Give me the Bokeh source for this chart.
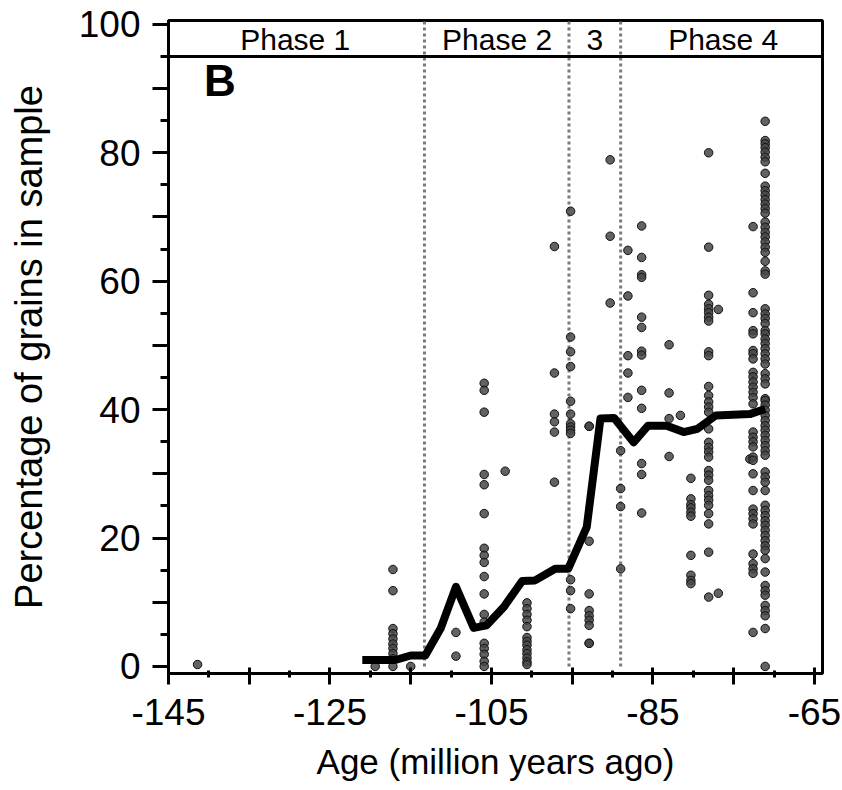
from bokeh.plotting import figure
from bokeh.models import Range1d, FixedTicker
from bokeh.core.properties import value
from bokeh.embed import file_html
from bokeh.resources import INLINE

FONT = "Liberation Sans"

# Sample ages (million years, negative = before present) and the
# percentage of grains in each sample taken at that age
column_ages = [-141.4, -119.4, -117.2, -115.0, -109.4, -105.9, -103.3, -100.6,
               -97.2, -95.2, -92.9, -90.3, -89.0, -88.1, -86.4, -83.0,
               -81.6, -80.3, -78.1, -76.9, -73.0, -72.6, -71.1]
column_pcts = [
    [0.3],
    [0.0],
    [15.1, 11.8, 5.9, 5.1, 4.3, 3.5, 2.8, 2.0, 1.2, 0.0],
    [0.0],
    [5.3, 1.6],
    [44.1, 43.0, 39.6, 29.9, 28.3, 23.8, 18.4, 17.3, 16.2, 14.0, 11.3, 8.1,
     6.9, 3.6, 2.8, 1.9, 0.8, 0.0],
    [30.4],
    [9.9, 9.0, 8.1, 7.2, 6.2, 4.5, 3.9, 3.3, 2.6, 2.0, 1.3, 0.7, 0.3],
    [65.4, 45.7, 39.3, 38.1, 36.5, 28.7],
    [70.9, 51.3, 49.0, 46.7, 41.3, 39.3, 37.8, 37.3, 36.8, 36.3, 13.5, 11.8, 9.0],
    [37.4, 37.4, 19.5, 11.3, 8.7, 7.9, 7.2, 6.4, 3.6, 3.6],
    [78.9, 67.0, 56.6],
    [33.6, 27.7, 24.9, 15.2],
    [64.8, 57.7, 48.4, 45.7, 41.9],
    [68.6, 63.7, 61.0, 60.6, 54.4, 52.8, 49.1, 48.5, 43.0, 40.2, 31.6, 29.9, 23.9],
    [50.1, 42.6, 38.6, 32.7],
    [39.1],
    [29.3, 26.1, 25.2, 24.7, 24.0, 23.4, 17.3, 14.2, 13.4, 12.9],
    [80.0, 65.3, 57.8, 56.4, 55.7, 55.1, 54.4, 53.8, 49.0, 48.4, 43.6, 42.2,
     41.2, 40.4, 39.6, 37.0, 34.9, 34.1, 33.4, 32.6, 30.5, 29.8, 29.0, 27.4,
     26.6, 25.9, 25.1, 23.8, 22.2, 17.8, 10.8],
    [55.6, 11.4],
    [32.3],
    [68.5, 58.2, 55.1, 52.3, 51.8, 49.2, 48.7, 47.9, 45.8, 45.1, 44.3, 43.5,
     42.7, 41.9, 40.9, 36.5, 35.7, 35.0, 34.2, 32.6, 32.1, 30.0, 27.4, 24.5,
     23.8, 23.0, 22.2, 17.5, 16.0, 15.2, 14.5, 5.3],
    [84.9, 81.9, 81.4, 80.8, 80.1, 79.3, 78.6, 76.8, 74.8, 74.1, 73.4, 72.7,
     72.0, 71.3, 70.6, 69.2, 68.4, 67.6, 66.9, 66.1, 65.3, 64.5, 63.1, 61.6,
     61.1, 55.7, 54.9, 54.2, 53.4, 52.3, 51.8, 51.0, 50.3, 49.5, 48.7, 47.9,
     47.1, 45.6, 44.8, 44.0, 41.7, 41.4, 40.7, 39.9, 39.1, 38.3, 37.5, 36.8,
     36.0, 35.2, 34.4, 33.6, 32.9, 30.3, 29.5, 28.7, 27.4, 25.1, 24.3, 23.5,
     22.7, 22.0, 21.2, 20.4, 19.6, 18.8, 18.1, 16.8, 14.7, 12.6, 11.8, 11.1,
     9.5, 8.7, 7.9, 5.9, 0.0],
]

# Running mean of the samples
mean_age = [-121.0, -116.9, -115.0, -113.2, -111.3, -109.4, -107.2, -105.6,
            -103.5, -101.2, -99.6, -97.1, -95.5, -93.2, -91.5, -89.8, -87.4,
            -85.6, -83.3, -81.2, -79.5, -77.2, -73.0, -71.1]
mean_pct = [1.0, 1.0, 1.7, 1.7, 5.9, 12.4, 6.0, 6.4, 9.2, 13.3, 13.4, 15.2,
            15.2, 21.7, 38.6, 38.7, 34.9, 37.5, 37.5, 36.5, 37.0, 39.1, 39.3,
            40.1]

# Phase boundaries and header labels
phase_bounds = [-113.3, -95.4, -89.0]
phase_names = ["Phase 1", "Phase 2", "3", "Phase 4"]
phase_centers = [-129.3, -104.3, -92.2, -76.3]

x_major = [-145, -135, -125, -115, -105, -95, -85, -75, -65]
x_minor = [-140, -130, -120, -110, -100, -90, -80, -70]
x_labeled = [-145, -125, -105, -85, -65]
y_major = [0, 10, 20, 30, 40, 50, 60, 70, 80, 90, 100]
y_minor = [5, 15, 25, 35, 45, 55, 65, 75, 85, 95]
y_labeled = [0, 20, 40, 60, 80, 100]

X_START, X_END = -145, -64
Y_START, Y_END = -1.1, 100.6
HEADER_Y = 95

ages, pcts = [], []
for a, col in zip(column_ages, column_pcts):
    ages += [a] * len(col)
    pcts += col

p = figure(width=842, height=790, output_backend="svg", toolbar_location=None,
           x_range=Range1d(X_START, X_END), y_range=Range1d(Y_START, Y_END),
           min_border_left=168, min_border_right=20, min_border_top=20,
           min_border_bottom=117)
p.grid.visible = False
p.outline_line_color = "black"
p.outline_line_width = 3
p.background_fill_color = "white"
p.border_fill_color = "white"

# dotted phase boundaries
p.segment(x0=phase_bounds, y0=[0] * 3, x1=phase_bounds, y1=[Y_END] * 3,
          line_color="#7a7a7a", line_width=3, line_dash="3 3")

# header band line
p.segment(x0=[X_START], y0=[HEADER_Y], x1=[X_END], y1=[HEADER_Y],
          line_color="black", line_width=3)

p.text(x=phase_centers, y=[97.6] * 4, text=phase_names,
       text_font=value(FONT), text_font_size="30px", text_color="black",
       text_align="center", text_baseline="middle")

p.text(x=[-140.6], y=[95.0], text=["B"], text_font=value(FONT),
       text_font_size="44px", text_font_style="bold", text_color="black",
       text_align="left", text_baseline="top")

# samples
p.scatter(ages, pcts, size=8.5, fill_color="#474747", fill_alpha=0.85,
          line_color="#111111", line_width=1)

# mean curve
p.line(mean_age, mean_pct, line_color="black", line_width=8,
       line_join="round")

# axes
xa = p.xaxis[0]
xa.ticker = FixedTicker(ticks=x_major, minor_ticks=x_minor)
xa.major_label_overrides = {t: (str(t) if t in x_labeled else "") for t in x_major}
xa.axis_label = "Age (million years ago)"
ya = p.yaxis[0]
ya.ticker = FixedTicker(ticks=y_major, minor_ticks=y_minor)
ya.major_label_overrides = {t: (str(t) if t in y_labeled else "") for t in y_major}
ya.axis_label = "Percentage of grains in sample"

for ax in (xa, ya):
    ax.axis_line_width = 3
    ax.axis_line_color = "black"
    ax.major_tick_line_width = 3
    ax.minor_tick_line_width = 3
    ax.major_tick_line_color = "black"
    ax.minor_tick_line_color = "black"
    ax.major_label_text_font = FONT
    ax.major_label_text_font_size = "37px"
    ax.major_label_text_color = "black"
    ax.axis_label_text_font = FONT
    ax.axis_label_text_font_style = "normal"
    ax.axis_label_text_color = "black"

xa.axis_label_text_font_size = "35px"
ya.axis_label_text_font_size = "38px"

xa.major_tick_in = 6
xa.major_tick_out = 11
xa.minor_tick_in = 3
xa.minor_tick_out = 4
xa.major_label_standoff = 14
xa.axis_label_standoff = 14

ya.major_tick_in = 0
ya.major_tick_out = 16
ya.minor_tick_in = 0
ya.minor_tick_out = 8
ya.major_label_standoff = 12
ya.axis_label_standoff = 26

open("out.html", "w").write(file_html(p, INLINE))
